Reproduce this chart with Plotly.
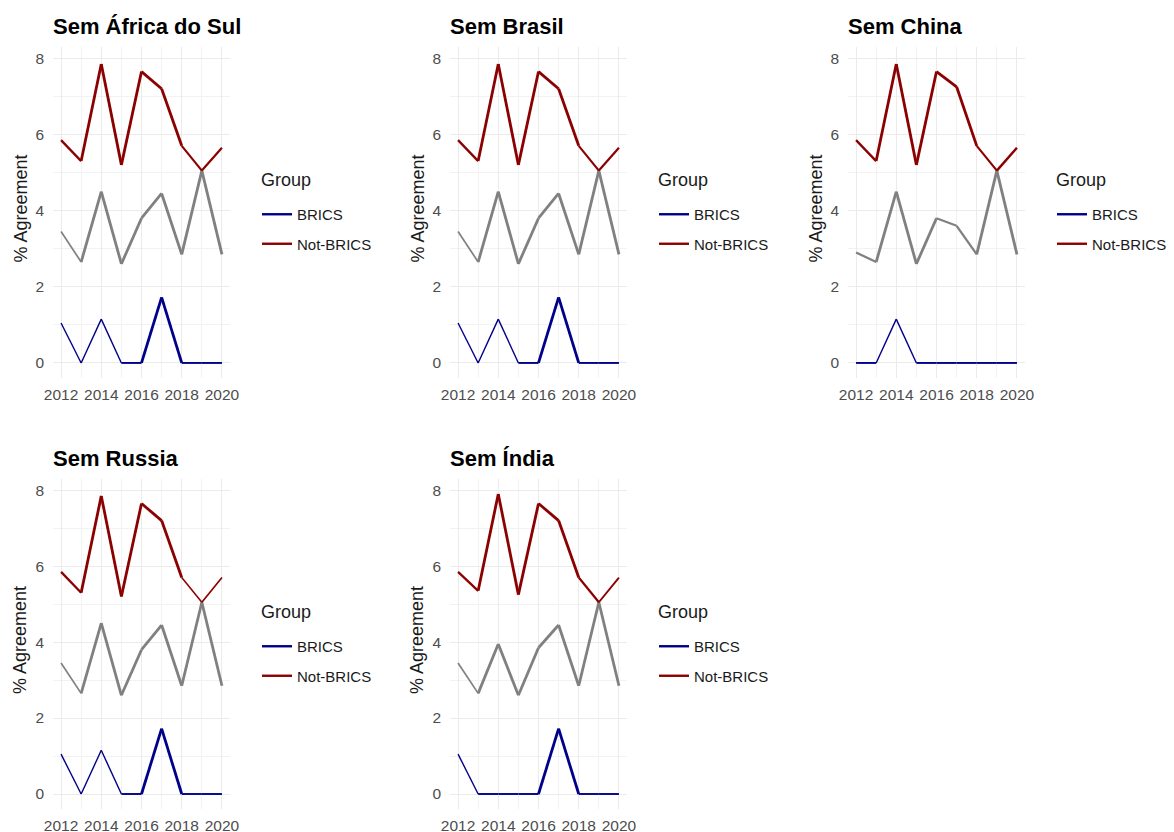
import plotly.graph_objects as go

years = [2012, 2013, 2014, 2015, 2016, 2017, 2018, 2019, 2020]
panel_titles = ["Sem África do Sul", "Sem Brasil", "Sem China", "Sem Russia", "Sem Índia"]

not_brics = [
    [5.85, 5.3, 7.85, 5.2, 7.65, 7.2, 5.7, 5.05, 5.65],
    [5.85, 5.3, 7.85, 5.2, 7.65, 7.2, 5.7, 5.05, 5.65],
    [5.85, 5.3, 7.85, 5.2, 7.65, 7.25, 5.7, 5.05, 5.65],
    [5.85, 5.3, 7.85, 5.2, 7.65, 7.2, 5.7, 5.05, 5.7],
    [5.85, 5.35, 7.9, 5.25, 7.65, 7.2, 5.7, 5.05, 5.7],
]
overall = [
    [3.45, 2.65, 4.5, 2.6, 3.8, 4.45, 2.85, 5.05, 2.85],
    [3.45, 2.65, 4.5, 2.6, 3.8, 4.45, 2.85, 5.05, 2.85],
    [2.9, 2.65, 4.5, 2.6, 3.8, 3.6, 2.85, 5.05, 2.85],
    [3.45, 2.65, 4.5, 2.6, 3.8, 4.45, 2.85, 5.05, 2.85],
    [3.45, 2.65, 3.95, 2.6, 3.85, 4.45, 2.85, 5.05, 2.85],
]
brics = [
    [1.05, 0, 1.15, 0, 0, 1.72, 0, 0, 0],
    [1.05, 0, 1.15, 0, 0, 1.72, 0, 0, 0],
    [0, 0, 1.15, 0, 0, 0, 0, 0, 0],
    [1.05, 0, 1.15, 0, 0, 1.72, 0, 0, 0],
    [1.05, 0, 0, 0, 0, 1.72, 0, 0, 0],
]
x_ticks = [2012, 2014, 2016, 2018, 2020]
y_ticks = [0, 2, 4, 6, 8]

# segment line widths (style)
w_red = [[2.3, 2.8, 2.8, 2.8, 2.8, 2.8, 2.2, 2.2],
         [2.3, 2.8, 2.8, 2.8, 2.8, 2.8, 2.2, 2.2],
         [2.3, 2.8, 2.8, 2.8, 2.8, 2.8, 2.2, 2.5],
         [2.3, 2.8, 2.8, 2.8, 2.8, 2.8, 1.5, 1.7],
         [2.3, 2.8, 2.8, 2.8, 2.8, 2.8, 2.2, 1.9]]
w_gray = [[1.7, 2.8, 2.8, 2.8, 2.8, 2.8, 2.8, 2.8],
          [1.7, 2.8, 2.8, 2.8, 2.8, 2.8, 2.8, 2.8],
          [2.3, 2.8, 2.8, 2.8, 2.1, 2.3, 2.8, 2.8],
          [1.7, 2.8, 2.8, 2.8, 2.8, 2.8, 2.8, 2.8],
          [1.7, 2.8, 2.8, 2.8, 2.8, 2.8, 2.8, 2.8]]
w_blue = [[1.4, 1.4, 1.4, 1.9, 2.8, 2.8, 1.9, 1.9],
          [1.4, 1.4, 1.4, 1.9, 2.8, 2.8, 1.9, 1.9],
          [1.9, 1.4, 1.4, 1.9, 1.9, 1.9, 1.9, 1.9],
          [1.4, 1.4, 1.4, 1.9, 2.8, 2.8, 1.9, 1.9],
          [1.4, 1.9, 1.9, 1.9, 2.8, 2.8, 1.9, 1.9]]

RED = "#8B0000"
BLUE = "#00008B"
GRAY = "#808080"

W, H = 1174, 832
col_px = [(53, 230), (450, 627), (848, 1025)]
row_px = [(47, 378), (479, 809)]
positions = [(0, 0), (0, 1), (0, 2), (1, 0), (1, 1)]

fig = go.Figure()
layout = dict(
    width=W, height=H, margin=dict(l=0, r=0, t=0, b=0, autoexpand=False),
    plot_bgcolor="white", paper_bgcolor="white",
    font=dict(family="Liberation Sans, Arial, sans-serif", color="#4d4d4d"),
    annotations=[], showlegend=True,
)

for p in range(5):
    r, c = positions[p]
    x0, x1 = col_px[c]
    y0, y1 = row_px[r]
    ax = "" if p == 0 else str(p + 1)
    xref = "x" + ax
    yref = "y" + ax
    lg = "legend" + ax
    common = dict(showgrid=True, gridcolor="#ebebeb", gridwidth=1.1,
                  zeroline=False, showline=False, ticks="",
                  tickfont=dict(size=15.5, color="#4d4d4d"))
    layout["xaxis" + ax] = dict(domain=[x0 / W, x1 / W], anchor=yref,
                                range=[2011.6, 2020.4], tickvals=x_ticks,
                                ticklabelstandoff=5,
                                minor=dict(showgrid=True, gridcolor="#f2f2f2", gridwidth=0.6,
                                           tickvals=[2013, 2015, 2017, 2019]),
                                **common)
    layout["yaxis" + ax] = dict(domain=[1 - y1 / H, 1 - y0 / H], anchor=xref,
                                range=[-0.395, 8.295], tickvals=y_ticks,
                                ticklabelstandoff=8,
                                minor=dict(showgrid=True, gridcolor="#f2f2f2", gridwidth=0.6,
                                           tickvals=[1, 3, 5, 7]),
                                **common)

    for vals, widths, color in [(overall[p], w_gray[p], GRAY),
                                (not_brics[p], w_red[p], RED),
                                (brics[p], w_blue[p], BLUE)]:
        for i in range(len(years) - 1):
            fig.add_trace(go.Scatter(
                x=years[i:i + 2], y=vals[i:i + 2], mode="lines",
                line=dict(color=color, width=widths[i]),
                xaxis=xref, yaxis=yref, showlegend=False, hoverinfo="skip"))

    for name, color in [("BRICS", BLUE), ("Not-BRICS", RED)]:
        fig.add_trace(go.Scatter(
            x=[None], y=[None], mode="lines", name=name,
            line=dict(color=color, width=2.4), legend=lg, legendgroup=name + ax,
            xaxis=xref, yaxis=yref, showlegend=True))

    layout[lg] = dict(
        x=(x1 + 27) / W, y=1 - (y0 + 151) / H, xanchor="left", yanchor="top",
        font=dict(size=15, color="#1a1a1a"), tracegroupgap=7,
        bgcolor="rgba(0,0,0,0)", itemwidth=30,
    )
    layout["annotations"].append(dict(
        text="Group", xref="paper", yref="paper",
        x=(x1 + 29) / W, y=1 - (y0 + 133) / H, xanchor="left", yanchor="middle",
        showarrow=False, font=dict(size=18, color="#1a1a1a")))

    layout["annotations"].append(dict(
        text="<b>" + panel_titles[p] + "</b>", xref="paper", yref="paper",
        x=(x0 - 2) / W, y=1 - (y0 - 21) / H, xanchor="left", yanchor="middle",
        showarrow=False, font=dict(size=22, color="black")))
    layout["annotations"].append(dict(
        text="% Agreement", xref="paper", yref="paper",
        x=(x0 - 33) / W, y=1 - ((y0 + y1) / 2 - 4) / H, xanchor="center", yanchor="middle",
        textangle=-90, showarrow=False, font=dict(size=18, color="#1a1a1a")))

fig.update_layout(**layout)
fig.write_html("out.html", config={"displayModeBar": False},
               post_script="document.body.style.margin='0';document.body.style.overflow='hidden';")
